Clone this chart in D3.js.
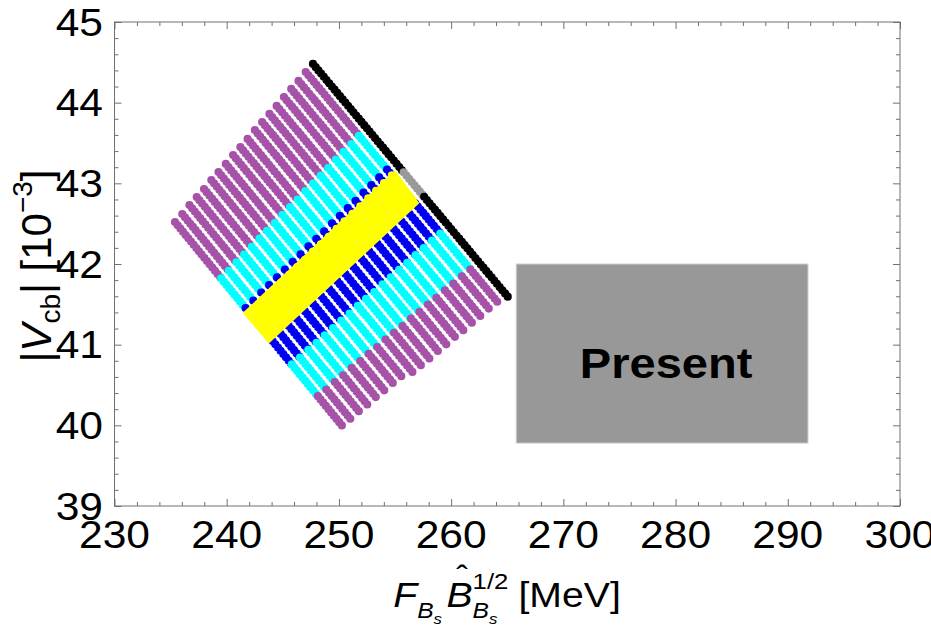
<!DOCTYPE html>
<html><head><meta charset="utf-8">
<script src="https://cdn.jsdelivr.net/npm/d3@7"></script>
<style>body{margin:0;background:#fff} text{font-family:"Liberation Sans",Arial,Helvetica,sans-serif;fill:#000}</style>
</head><body><svg id="c" width="931" height="637"></svg>
<script>
// ---- data ----
const xTicks = [230, 240, 250, 260, 270, 280, 290, 300];
const yTicks = [39, 40, 41, 42, 43, 44, 45];
// scan lines (one per row of dots): start on the upper-left edge, end on the lower-right edge
const stripeStartX = [235.39,236.04,236.68,237.33,237.98,238.63,239.27,239.92,240.57,241.22,241.86,242.51,243.16,243.81,244.45,245.10,245.75,246.40,247.04,247.69];
const stripeStartY = [42.52,42.62,42.73,42.83,42.93,43.04,43.14,43.24,43.35,43.45,43.55,43.66,43.76,43.86,43.96,44.07,44.17,44.27,44.38,44.48];
const stripeEndX   = [250.37,251.14,251.92,252.69,253.46,254.24,255.01,255.79,256.56,257.33,258.11,258.88,259.65,260.43,261.20,261.98,262.75,263.52,264.30,265.07];
const stripeEndY   = [39.98,40.06,40.15,40.23,40.32,40.40,40.49,40.57,40.66,40.74,40.82,40.91,40.99,41.08,41.16,41.25,41.33,41.42,41.50,41.59];
// colour bands along each scan line (fraction of the line)
const bandStops  = [0, 0.275, 0.42, 0.445, 0.565, 0.695, 0.85, 1];
const bandColors = ["purple", "cyan", "blue", "yellow", "blue", "cyan", "purple"];
// the last scan line (edge)
const edgeStops  = [0, 0.465, 0.57, 1];
const edgeColors = ["black", "gray", "black"];
// yellow band corners
const yellowX = [241.54, 255.00, 257.05, 243.77];
const yellowY = [41.393, 43.141, 42.756, 41.033];
// "Present" box
const presentX = [265.8, 291.8];
const presentY = [39.78, 42.0];

const palette = {purple:"#a652a8", cyan:"#00ffff", blue:"#0000f0", yellow:"#ffff00", black:"#000000", gray:"#999999"};

// ---- drawing ----
const svg = d3.select("#c");
const SX = 1.12;
const x = d3.scaleLinear().domain([230, 300]).range([114.5, 900]);
const y = d3.scaleLinear().domain([39, 45]).range([506, 22]);
const line = d3.line().x(d => x(d[0])).y(d => y(d[1]));

const plot = svg.append("g");
function drawStripe(i, stops, colors) {
  const sx = stripeStartX[i], sy = stripeStartY[i], ex = stripeEndX[i], ey = stripeEndY[i];
  const at = f => [sx + (ex - sx) * f, sy + (ey - sy) * f];
  colors.forEach((c, j) => {
    plot.append("path")
      .attr("d", line([at(stops[j]), at(stops[j + 1])]))
      .attr("fill", "none")
      .attr("stroke", palette[c])
      .attr("stroke-width", 8.2)
      .attr("stroke-linecap", "round")
      .attr("stroke-dasharray", "0 4.2");
  });
}
for (let i = 0; i < stripeStartX.length - 1; i++) drawStripe(i, bandStops, bandColors);
plot.append("path")
  .attr("d", line(yellowX.map((v, i) => [v, yellowY[i]])) + "Z")
  .attr("fill", palette.yellow).attr("stroke", palette.yellow)
  .attr("stroke-width", 2).attr("stroke-linejoin", "round");
drawStripe(stripeStartX.length - 1, edgeStops, edgeColors);

// Present box
svg.append("rect")
  .attr("x", x(presentX[0])).attr("y", y(presentY[1]))
  .attr("width", x(presentX[1]) - x(presentX[0])).attr("height", y(presentY[0]) - y(presentY[1]))
  .attr("fill", "#989898").attr("stroke", "#cfcfcf").attr("stroke-width", 1);
svg.append("text")
  .attr("transform", `translate(${(x(presentX[0]) + x(presentX[1])) / 2 + 4},${(y(presentY[0]) + y(presentY[1])) / 2 + 24}) scale(${SX},1)`)
  .attr("text-anchor", "middle").style("font-size", "42px").style("font-weight", "bold").text("Present");

// frame and ticks
const frameColor = "#707070";
svg.append("rect").attr("x", x(230)).attr("y", y(45)).attr("width", x(300) - x(230)).attr("height", y(39) - y(45))
  .attr("fill", "none").attr("stroke", frameColor).attr("stroke-width", 1);
const xMinor = d3.range(230, 300.01, 2).filter(v => v % 10 !== 0);
const yMinor = d3.range(39, 45.001, 0.2).map(v => +v.toFixed(1)).filter(v => Math.abs(v - Math.round(v)) > 1e-6);
function ticks(axis, vals, size, transform) {
  const g = svg.append("g").attr("transform", transform)
    .call(axis.tickValues(vals).tickSize(-size).tickFormat(""));
  g.select(".domain").remove();
  g.selectAll("line").attr("stroke", frameColor);
}
ticks(d3.axisBottom(x), xTicks, 7, `translate(0,${y(39)})`);
ticks(d3.axisBottom(x), xMinor, 4, `translate(0,${y(39)})`);
ticks(d3.axisTop(x), xTicks, 7, `translate(0,${y(45)})`);
ticks(d3.axisTop(x), xMinor, 4, `translate(0,${y(45)})`);
ticks(d3.axisLeft(y), yTicks, 7, `translate(${x(230)},0)`);
ticks(d3.axisLeft(y), yMinor, 4, `translate(${x(230)},0)`);
ticks(d3.axisRight(y), yTicks, 7, `translate(${x(300)},0)`);
ticks(d3.axisRight(y), yMinor, 4, `translate(${x(300)},0)`);

// tick labels
svg.append("g").selectAll("text").data(xTicks).join("text")
  .attr("transform", d => `translate(${x(d)},548) scale(${SX},1)`)
  .attr("text-anchor", "middle").style("font-size", "38px").text(d => d);
svg.append("g").selectAll("text").data(yTicks).join("text")
  .attr("transform", d => `translate(103,${y(d) + 13.5}) scale(${SX},1)`)
  .attr("text-anchor", "end").style("font-size", "38px").text(d => d);

// axis titles
function build(g, pieces) {
  let cx = 0;
  pieces.forEach(p => {
    if (p.gap) { cx += p.gap; return; }
    if (p.stack) {
      let mw = 0;
      p.stack.forEach(sub => { const w = build(g.append("g").attr("transform", `translate(${cx},0)`), sub); mw = Math.max(mw, w); });
      cx += mw; return;
    }
    const t = g.append("text").attr("x", cx).attr("y", p.dy || 0)
      .style("font-size", p.fs + "px").style("font-style", p.it ? "italic" : "normal").text(p.t);
    const w = t.node().getComputedTextLength();
    if (p.hat) g.append("text").attr("x", cx + w * 0.6).attr("y", (p.dy || 0) - p.fs * 0.55)
      .attr("text-anchor", "middle").style("font-size", (p.fs * 0.9) + "px").text("\u02C6");
    cx += w;
  });
  return cx;
}
function title(pieces, transform) {
  const g = svg.append("g").attr("transform", transform);
  const inner = g.append("g");
  const w = build(inner, pieces);
  inner.attr("transform", `translate(${-w / 2},0)`);
}
const FS = 35;
title([
  {t: "F", it: true, fs: FS},
  {t: "B", it: true, fs: 22, dy: 11},
  {t: "s", it: true, fs: 15, dy: 17},
  {gap: 4},
  {t: "B", it: true, fs: FS, hat: true},
  {stack: [
    [{t: "1/2", fs: 23, dy: -18}],
    [{t: "B", it: true, fs: 22, dy: 11}, {t: "s", it: true, fs: 15, dy: 17}]
  ]},
  {gap: 9},
  {t: "[MeV]", fs: FS}
], `translate(507,607) scale(${SX},1)`);
const YFS = 42;
title([
  {t: "|", fs: YFS},
  {t: "V", it: true, fs: YFS},
  {t: "cb", fs: 28, dy: 9},
  {t: "| [10", fs: YFS},
  {t: "\u22123", fs: 28, dy: -19},
  {t: "]", fs: YFS}
], `translate(51,266) rotate(-90)`);
</script></body></html>
